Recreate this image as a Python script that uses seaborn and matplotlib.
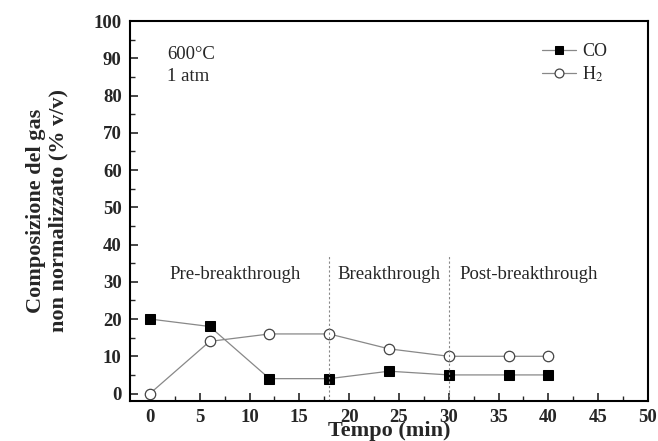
import matplotlib
matplotlib.use("Agg")
import matplotlib.pyplot as plt
import seaborn as sns
import pandas as pd
from matplotlib.ticker import MultipleLocator

time_min = [0, 6, 12, 18, 24, 30, 36, 40]
co_vals = [20, 18, 4, 4, 6, 5, 5, 5]
h2_vals = [0, 14, 16, 16, 12, 10, 10, 10]
phase_bounds = [18, 30]
phase_labels = ["Pre-breakthrough", "Breakthrough", "Post-breakthrough"]
phase_label_x = [8.5, 24, 38]

sns.set_style("white")
plt.rcParams['font.family'] = ['Liberation Serif', 'DejaVu Serif']
plt.rcParams['mathtext.fontset'] = 'stix'

df = pd.DataFrame({"t": time_min * 2,
                   "v": co_vals + h2_vals,
                   "gas": ["CO"] * len(time_min) + ["H2"] * len(time_min)})

fig = plt.figure(figsize=(6.58, 4.41), dpi=100)
ax = fig.add_axes([130/658, 40/441, 518/658, 380/441])

sns.lineplot(data=df[df.gas == "CO"], x="t", y="v", ax=ax, color="#888888", lw=0.9,
             marker="s", markersize=7, markerfacecolor="black", markeredgecolor="black",
             label="CO")
sns.lineplot(data=df[df.gas == "H2"], x="t", y="v", ax=ax, color="#888888", lw=0.9,
             marker="o", markersize=7.5, markerfacecolor="white", markeredgecolor="#444444",
             markeredgewidth=0.9, label="H$_2$")

ax.vlines(phase_bounds, -2, 37, colors="#888888", linestyles=(0, (2, 2)), lw=0.8)

for lbl, xp in zip(phase_labels, phase_label_x):
    ax.text(xp, 32, lbl, ha="center", va="center", fontsize=13.5)
ax.text(1.7, 90.9, "600°C", ha="left", va="center", fontsize=13.5)
ax.text(1.7, 85.2, "1 atm", ha="left", va="center", fontsize=13.5)

ax.set_xlim(-2, 50)
ax.set_ylim(-2, 100)
ax.xaxis.set_major_locator(MultipleLocator(5))
ax.xaxis.set_minor_locator(MultipleLocator(2.5))
ax.yaxis.set_major_locator(MultipleLocator(10))
ax.yaxis.set_minor_locator(MultipleLocator(5))
ax.tick_params(which="both", direction="in", top=False, right=False, bottom=True, left=True)
ax.tick_params(which="major", length=6, width=1.2, labelsize=13.5)
ax.tick_params(axis="x", which="major", pad=6)
ax.tick_params(axis="y", which="major", pad=6)
ax.tick_params(which="minor", length=3.5, width=1.0)
for lab in ax.get_xticklabels() + ax.get_yticklabels():
    lab.set_fontweight("bold")
for s in ax.spines.values():
    s.set_linewidth(1.5)
    s.set_color("black")

ax.set_xlabel("Tempo (min)", fontsize=16, fontweight="bold", labelpad=-4)
ax.set_ylabel("Composizione del gas\nnon normalizzato (% v/v)", fontsize=16,
              fontweight="bold", labelpad=18)

leg = ax.legend(loc="upper right", bbox_to_anchor=(0.952, 0.985), frameon=False, fontsize=13,
                handlelength=1.9, handletextpad=0.3, labelspacing=0.25, markerscale=0.85)

fig.savefig("out.png", dpi=100)
